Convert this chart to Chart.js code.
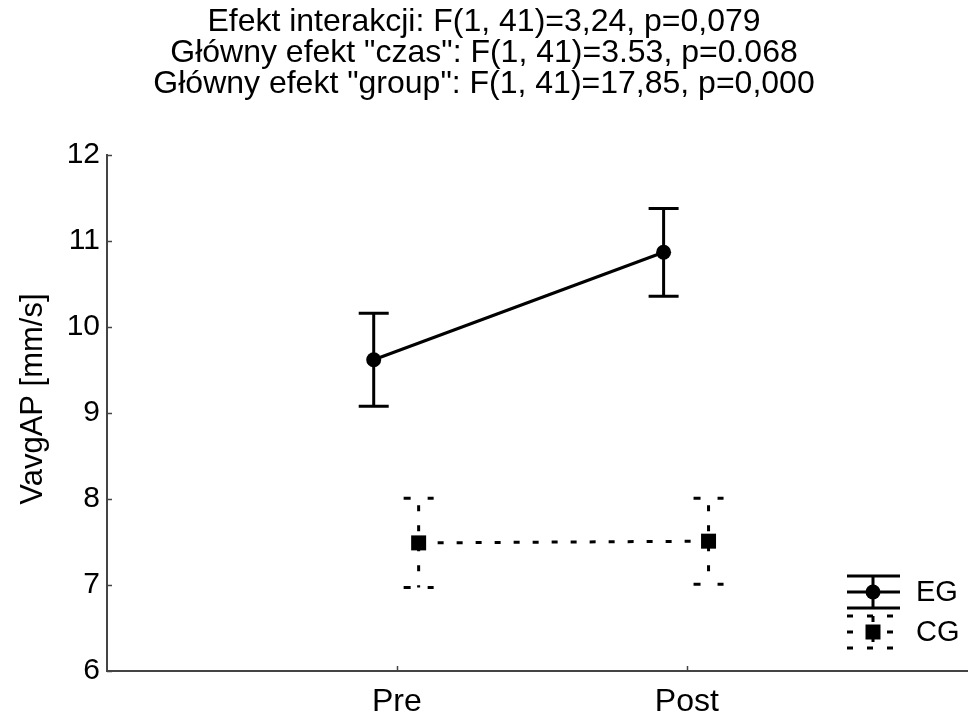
<!DOCTYPE html>
<html>
<head>
<meta charset="utf-8">
<script src="https://cdn.jsdelivr.net/npm/chart.js@4.4.1/dist/chart.umd.min.js"></script>
<style>
html, body { margin: 0; padding: 0; background: #fff; }
canvas { display: block; }
</style>
</head>
<body>
<canvas id="chart" width="968" height="715"></canvas>
<script>
const categories = ['Pre', 'Post'];
const egMean = [9.62, 10.87];
const egErr = [0.54, 0.51];
const cgMean = [7.49, 7.51];
const cgErr = [0.52, 0.50];
const yTicks = [6, 7, 8, 9, 10, 11, 12];
const titleLines = [
    'Efekt interakcji: F(1, 41)=3,24, p=0,079',
    'Główny efekt "czas": F(1, 41)=3.53, p=0.068',
    'Główny efekt "group": F(1, 41)=17,85, p=0,000'
];
const yTitle = 'VavgAP [mm/s]';
const seriesNames = ['EG', 'CG'];

const FONT = '"Liberation Sans", Arial, sans-serif';
Chart.defaults.font.family = FONT;
Chart.defaults.color = '#000';

const AXIS_COLOR = '#444';

// groups are nudged sideways so the error bars don't overlap
const egShift = -0.08;
const cgShift = 0.075;

function toPoints(means, shift) {
    return means.map((v, i) => ({ x: i + 1 + shift, y: v }));
}

// vertical whiskers with caps, dashed for the dotted series
const errorBars = {
    id: 'errorBars',
    afterDatasetsDraw(chart) {
        const { ctx, scales: { x, y } } = chart;
        chart.data.datasets.forEach(ds => {
            ctx.save();
            ctx.strokeStyle = '#000';
            ctx.lineWidth = 3;
            ds.data.forEach((p, j) => {
                const px = x.getPixelForValue(p.x);
                const top = y.getPixelForValue(p.y + ds.errorBars[j]);
                const bot = y.getPixelForValue(p.y - ds.errorBars[j]);
                ctx.setLineDash(ds.dotted ? [6, 14] : []);
                ctx.lineDashOffset = ds.dotted ? 13 : 0;
                ctx.beginPath();
                ctx.moveTo(px, top);
                ctx.lineTo(px, bot);
                ctx.stroke();
                ctx.setLineDash(ds.dotted ? [7, 17] : []);
                ctx.lineDashOffset = 0;
                ctx.beginPath();
                ctx.moveTo(px - 15, top); ctx.lineTo(px + 15, top);
                ctx.moveTo(px - 15, bot); ctx.lineTo(px + 15, bot);
                ctx.stroke();
            });
            ctx.restore();
        });
    }
};

// tick marks pointing into the plot, plus the rotated y title
const axisExtras = {
    id: 'axisExtras',
    afterDraw(chart) {
        const { ctx, chartArea: a, scales: { x, y } } = chart;
        ctx.save();
        ctx.strokeStyle = AXIS_COLOR;
        ctx.lineWidth = 1.5;
        ctx.beginPath();
        y.ticks.forEach(t => {
            const py = Math.round(y.getPixelForValue(t.value)) + 0.5;
            ctx.moveTo(a.left, py); ctx.lineTo(a.left + 5, py);
        });
        x.ticks.forEach(t => {
            const px = Math.round(x.getPixelForValue(t.value)) + 0.5;
            ctx.moveTo(px, a.bottom); ctx.lineTo(px, a.bottom - 5);
        });
        ctx.stroke();

        ctx.translate(33, (a.top + a.bottom) / 2 - 14);
        ctx.rotate(-Math.PI / 2);
        ctx.fillStyle = '#000';
        ctx.font = '31px ' + FONT;
        ctx.textAlign = 'center';
        ctx.textBaseline = 'middle';
        ctx.fillText(yTitle, 0, 0);
        ctx.restore();
    }
};

// legend entries drawn as small error-bar glyphs
const symbolLegend = {
    id: 'symbolLegend',
    afterDraw(chart) {
        const { ctx, chartArea: a } = chart;
        const cx = a.right - 95;
        const rows = [a.bottom - 79, a.bottom - 39];
        chart.data.datasets.forEach((ds, i) => {
            const cy = rows[i];
            ctx.save();
            ctx.strokeStyle = '#000';
            ctx.fillStyle = '#000';
            ctx.lineWidth = 3;
            ctx.setLineDash(ds.dotted ? [6, 14] : []);
            ctx.beginPath();
            [-16, 0, 16].forEach(dy => {
                ctx.moveTo(cx - 26, cy + dy);
                ctx.lineTo(cx + 27, cy + dy);
            });
            ctx.moveTo(cx, cy - 16);
            ctx.lineTo(cx, cy + 16);
            ctx.stroke();
            ctx.setLineDash([]);
            Chart.helpers.drawPoint(ctx, {
                pointStyle: ds.pointStyle,
                radius: ds.pointRadius,
                borderWidth: 0
            }, cx, cy);
            ctx.font = '29px ' + FONT;
            ctx.textBaseline = 'middle';
            ctx.textAlign = 'left';
            ctx.fillText(ds.label, cx + 43, cy + 1);
            ctx.restore();
        });
    }
};

new Chart(document.getElementById('chart'), {
    type: 'line',
    data: {
        datasets: [{
            label: seriesNames[0],
            data: toPoints(egMean, egShift),
            errorBars: egErr,
            dotted: false,
            borderColor: '#000',
            backgroundColor: '#000',
            borderWidth: 3,
            pointStyle: 'circle',
            pointRadius: 7.5,
            pointBorderWidth: 0,
            tension: 0
        }, {
            label: seriesNames[1],
            data: toPoints(cgMean, cgShift),
            errorBars: cgErr,
            dotted: true,
            borderColor: '#000',
            backgroundColor: '#000',
            borderWidth: 3,
            borderDash: [6, 13],
            pointStyle: 'rect',
            pointRadius: 10.6,
            pointBorderWidth: 0,
            tension: 0
        }]
    },
    options: {
        responsive: false,
        devicePixelRatio: 1,
        animation: false,
        layout: { padding: 0, autoPadding: false },
        plugins: {
            legend: { display: false },
            tooltip: { enabled: false },
            title: {
                display: true,
                text: titleLines,
                color: '#000',
                font: { size: 32, weight: 'normal', lineHeight: 0.97 },
                padding: { top: 7, bottom: 55 }
            }
        },
        scales: {
            x: {
                type: 'linear',
                min: 0,
                max: 2.97,
                afterBuildTicks: s => { s.ticks = categories.map((c, i) => ({ value: i + 1 })); },
                afterFit: s => { s.height = 44; },
                ticks: {
                    callback: v => categories[v - 1],
                    font: { size: 32 },
                    color: '#000',
                    padding: 12,
                    maxRotation: 0
                },
                grid: { display: false, drawTicks: false },
                border: { display: true, color: AXIS_COLOR, width: 2 }
            },
            y: {
                min: 6,
                max: 12,
                afterBuildTicks: s => { s.ticks = yTicks.map(v => ({ value: v })); },
                afterFit: s => { s.width = 107; },
                ticks: { font: { size: 30 }, color: '#000', padding: 7 },
                grid: { display: false, drawTicks: false },
                border: { display: true, color: AXIS_COLOR, width: 2 }
            }
        }
    },
    plugins: [errorBars, axisExtras, symbolLegend]
});
</script>
</body>
</html>
